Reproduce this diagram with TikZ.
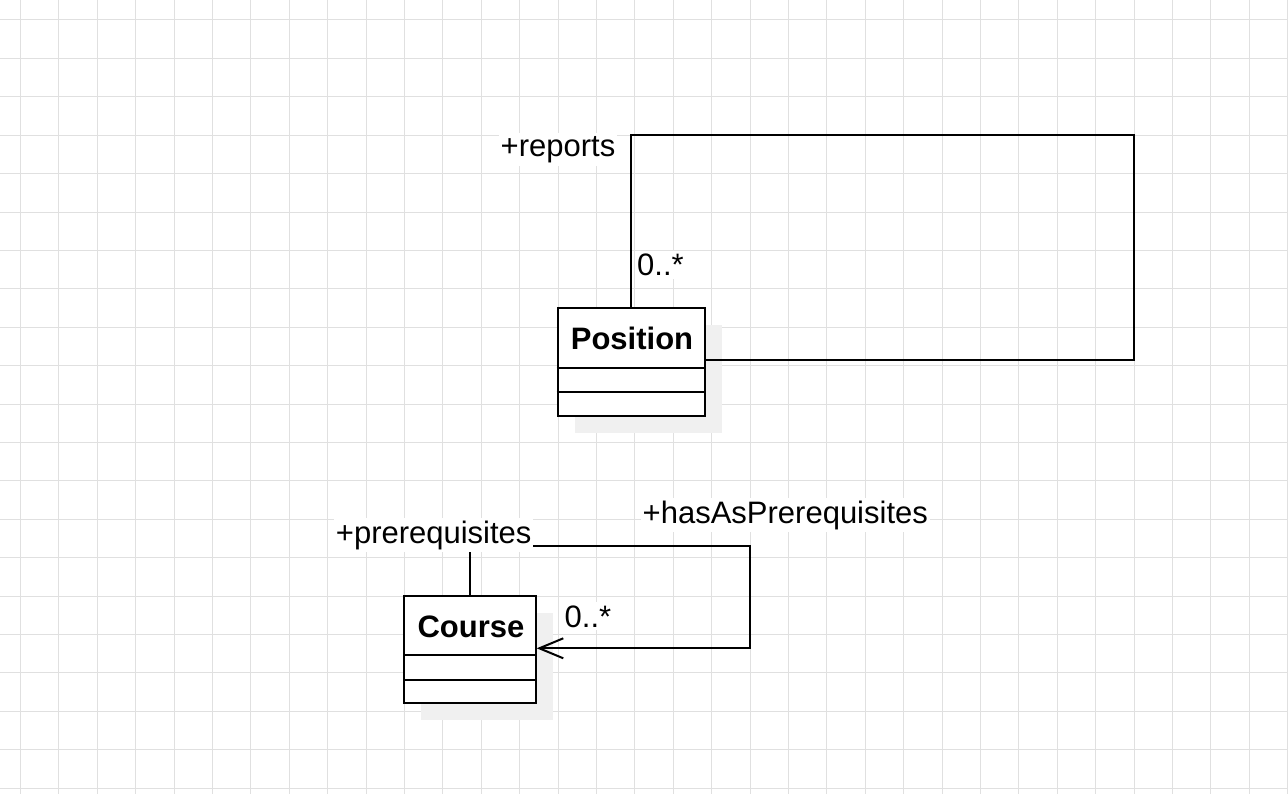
\documentclass[tikz,border=0pt]{standalone}
\usepackage{fontspec}
\setmainfont{Liberation Sans}
\usetikzlibrary{arrows.meta}
\definecolor{gridc}{RGB}{224,224,224}
\definecolor{shadowc}{RGB}{240,240,240}
\begin{document}
\begin{tikzpicture}[x=1bp,y=-1bp,
 lbl/.style={font=\fontsize{31bp}{36bp}\selectfont, fill=white, inner xsep=2bp, inner ysep=3bp, anchor=base},
 cname/.style={font=\fontsize{31bp}{36bp}\selectfont\bfseries, inner sep=0pt, anchor=base},
 classbox/.style={draw=black, line width=2bp, fill=white, rectangle, inner sep=0pt},
 conn/.style={draw=black, line width=2bp},
 shadowbox/.style={fill=shadowc, draw=none, rectangle, inner sep=0pt},
 gridline/.style={draw=gridc, line width=1bp}
]
\useasboundingbox (0,0) rectangle (1288,794);
\fill[white] (0,0) rectangle (1288,794);
\foreach \i in {0,...,33} \draw[gridline] ({20.5+38.4*\i},0) -- ({20.5+38.4*\i},794);
\foreach \j in {0,...,20} \draw[gridline] (0,{20+38.4*\j}) -- (1288,{20+38.4*\j});

% Position class
\node[shadowbox, minimum width=147.3bp, minimum height=108bp] (posshadow) at (648.35,378.7) {};
\node[classbox, minimum width=147.3bp, minimum height=108bp] (pos) at (631.35,361.7) {};
\draw[conn] (pos.west |- 0,368.3) -- (pos.east |- 0,368.3);
\draw[conn] (pos.west |- 0,392.3) -- (pos.east |- 0,392.3);
\node[cname] (posname) at (632,349.5) {Position};

% Course class
\node[shadowbox, minimum width=131.7bp, minimum height=107.3bp] (courseshadow) at (486.85,666.65) {};
\node[classbox, minimum width=131.7bp, minimum height=107.3bp] (course) at (469.85,649.65) {};
\draw[conn] (course.west |- 0,655) -- (course.east |- 0,655);
\draw[conn] (course.west |- 0,680) -- (course.east |- 0,680);
\node[cname] (coursename) at (471,637) {Course};

% reports self association
\coordinate (r1) at (631.35,135);
\coordinate (r2) at (1134,135);
\coordinate (r3) at (1134,360);
\draw[conn] (pos.north) -- (r1) -- (r2) -- (r3) -- (pos.east |- r3);

% prerequisites self association
\coordinate (c1) at (469.85,545.7);
\coordinate (c2) at (750,545.7);
\coordinate (c3) at (750,648.3);
\draw[conn, -{Straight Barb[length=24bp,width=20bp,line width=2bp]}] (course.north) -- (c1) -- (c2) -- (c3) -- (course.east |- c3);

% labels
\node[lbl] (lreports) at (558,156.5) {+reports};
\node[lbl] (lmult1) at (660.5,275.5) {0..*};
\node[lbl] (lprereq) at (433.7,543) {+prerequisites};
\node[lbl] (lhas) at (785.3,523) {+hasAsPrerequisites};
\node[lbl] (lmult2) at (588,627) {0..*};
\end{tikzpicture}
\end{document}
